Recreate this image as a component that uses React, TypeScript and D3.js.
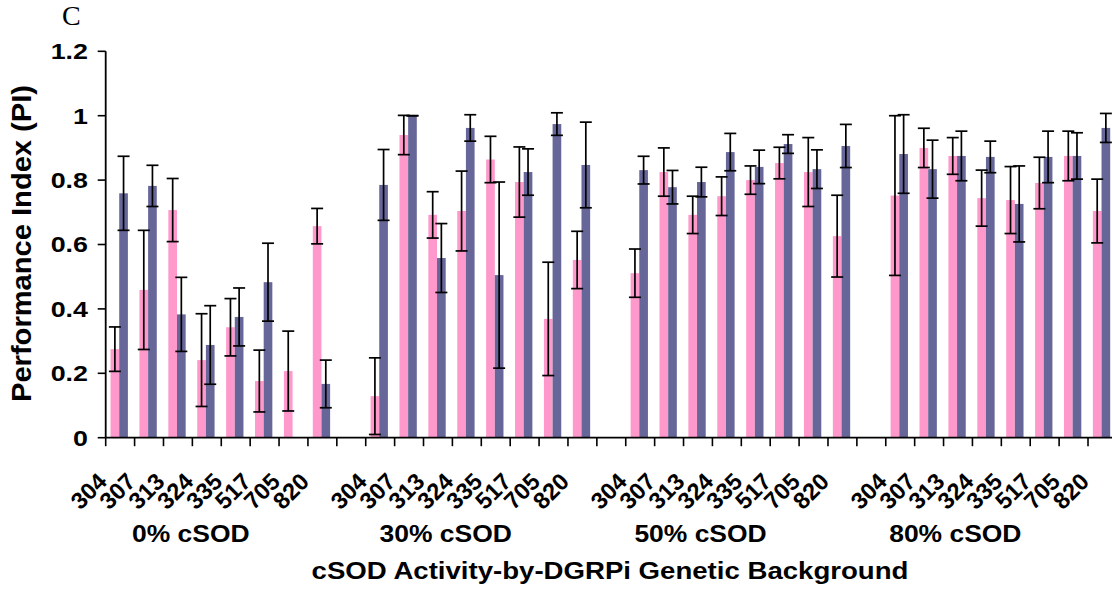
import React from "react";
import * as d3 from "d3";

const groups = ["0% cSOD", "30% cSOD", "50% cSOD", "80% cSOD"];
const strains = ["304", "307", "313", "324", "335", "517", "705", "820"];
const yTicks = [0, 0.2, 0.4, 0.6, 0.8, 1, 1.2];
const seriesNames = ["pink", "blue"];

// values listed group by group (0%, 30%, 50%, 80%), strains in order
const pinkMean = [
  0.275, 0.459, 0.707, 0.241, 0.343, 0.176, 0.207, 0.657,
  0.129, 0.94, 0.692, 0.704, 0.864, 0.794, 0.369, 0.552,
  0.511, 0.825, 0.692, 0.75, 0.8, 0.853, 0.825, 0.626,
  0.752, 0.9, 0.875, 0.744, 0.738, 0.791, 0.875, 0.704,
];
const pinkErr = [
  0.069, 0.185, 0.098, 0.144, 0.089, 0.096, 0.124, 0.055,
  0.119, 0.061, 0.072, 0.124, 0.072, 0.109, 0.176, 0.089,
  0.075, 0.075, 0.058, 0.06, 0.044, 0.049, 0.107, 0.127,
  0.248, 0.061, 0.057, 0.087, 0.104, 0.08, 0.077, 0.099,
];
const blueMean = [
  0.759, 0.782, 0.383, 0.288, 0.375, 0.483, null, 0.167,
  0.785, 1.0, 0.558, 0.962, 0.505, 0.825, 0.974, 0.847,
  0.831, 0.778, 0.794, 0.887, 0.841, 0.912, 0.834, 0.906,
  0.881, 0.834, 0.875, 0.872, 0.726, 0.872, 0.875, 0.962,
];
const blueErr = [
  0.115, 0.064, 0.115, 0.122, 0.09, 0.121, null, 0.074,
  0.11, 0, 0.107, 0.041, 0.289, 0.072, 0.035, 0.133,
  0.043, 0.052, 0.046, 0.058, 0.052, 0.029, 0.06, 0.067,
  0.122, 0.09, 0.077, 0.049, 0.118, 0.08, 0.072, 0.045,
];

const COLORS: Record<string, string> = { pink: "#FF99CC", blue: "#666699" };
const FONT = "'Liberation Sans', Arial, sans-serif";

export default function App() {
  const W = 1112;
  const H = 590;
  const x0 = 105.7;
  const x1 = 1116.9;
  const y = d3.scaleLinear().domain([0, 1.2]).range([437.7, 51.3]);

  // slot keys: strains of each group, with an empty slot between groups
  const slots: string[] = [];
  groups.forEach((g, gi) => {
    strains.forEach((s) => slots.push(`${g}|${s}`));
    if (gi < groups.length - 1) slots.push(`gap${gi}`);
  });
  const x = d3.scaleBand<string>().domain(slots).range([x0, x1]).padding(0);
  const bw = x.bandwidth();
  const inner = d3
    .scaleBand<string>()
    .domain(seriesNames)
    .range([0, bw])
    .paddingInner(0)
    .paddingOuter(0.667)
    .align(0.42);

  type Row = { key: string; series: string; mean: number; err: number };
  const rows: Row[] = [];
  groups.forEach((g, gi) => {
    strains.forEach((s, si) => {
      const i = gi * strains.length + si;
      const key = `${g}|${s}`;
      if (pinkMean[i] != null)
        rows.push({ key, series: "pink", mean: pinkMean[i] as number, err: pinkErr[i] as number });
      if (blueMean[i] != null)
        rows.push({ key, series: "blue", mean: blueMean[i] as number, err: blueErr[i] as number });
    });
  });

  const capW = 12;
  const boundaries = slots.map((k) => x(k) as number).concat([x1]);
  const sx = 1.15;

  return (
    <svg
      width={W}
      height={H}
      style={{ position: "absolute", left: 0, top: 0, display: "block", background: "#fff" }}
    >
      {/* panel letter */}
      <text x={62} y={25} fontFamily="'Liberation Serif', 'Times New Roman', serif" fontSize={28}>
        C
      </text>

      {/* bars */}
      {rows.map((r, i) => (
        <rect
          key={"b" + i}
          x={(x(r.key) as number) + (inner(r.series) as number)}
          y={y(r.mean)}
          width={inner.bandwidth()}
          height={y(0) - y(r.mean)}
          fill={COLORS[r.series]}
        />
      ))}

      {/* error bars */}
      {rows.map((r, i) => {
        const cx = (x(r.key) as number) + (inner(r.series) as number) + inner.bandwidth() / 2;
        const top = y(Math.min(r.mean + r.err, 1.2));
        const bot = y(Math.max(r.mean - r.err, 0));
        return (
          <g key={"e" + i} stroke="#000" strokeWidth={1.7}>
            <line x1={cx} x2={cx} y1={top} y2={bot} />
            <line x1={cx - capW / 2} x2={cx + capW / 2} y1={top} y2={top} />
            <line x1={cx - capW / 2} x2={cx + capW / 2} y1={bot} y2={bot} />
          </g>
        );
      })}

      {/* y axis */}
      <line x1={x0} x2={x0} y1={y(1.2)} y2={y(0)} stroke="#000" strokeWidth={1.8} />
      {yTicks.map((t) => (
        <g key={"yt" + t}>
          <line x1={x0 - 8} x2={x0} y1={y(t)} y2={y(t)} stroke="#000" strokeWidth={1.6} />
          <text
            transform={`translate(88, ${y(t) + 7.8}) scale(1.22,1)`}
            textAnchor="end"
            fontFamily={FONT}
            fontWeight="bold"
            fontSize={22}
          >
            {d3.format("~g")(t)}
          </text>
        </g>
      ))}

      {/* x axis */}
      <line x1={x0} x2={x1} y1={y(0)} y2={y(0)} stroke="#000" strokeWidth={1.8} />
      {boundaries.map((b, i) => (
        <line key={"xt" + i} x1={b} x2={b} y1={y(0)} y2={y(0) + 8.5} stroke="#000" strokeWidth={1.6} />
      ))}

      {/* strain labels */}
      {groups.map((g) =>
        strains.map((s) => {
          const cx = (x(`${g}|${s}`) as number) + bw / 2;
          return (
            <text
              key={g + s}
              transform={`translate(${cx - 12}, 483) rotate(-45)`}
              textAnchor="end"
              fontFamily={FONT}
              fontWeight="bold"
              fontSize={23.5}
            >
              {s}
            </text>
          );
        })
      )}

      {/* group labels */}
      {groups.map((g) => {
        const a = x(`${g}|${strains[0]}`) as number;
        const b = (x(`${g}|${strains[strains.length - 1]}`) as number) + bw;
        const cx = ((a + b) / 2) * 0.98 - 26;
        return (
          <text
            key={"g" + g}
            transform={`translate(${cx}, 541.5) scale(${sx},1)`}
            textAnchor="middle"
            fontFamily={FONT}
            fontWeight="bold"
            fontSize={23}
          >
            {g}
          </text>
        );
      })}

      {/* x axis title */}
      <text
        transform={`translate(610, 578.5) scale(1.2,1)`}
        textAnchor="middle"
        fontFamily={FONT}
        fontWeight="bold"
        fontSize={23}
      >
        cSOD Activity-by-DGRPi Genetic Background
      </text>

      {/* y axis title */}
      <text
        transform={`translate(31, 243.5) rotate(-90)`}
        textAnchor="middle"
        fontFamily={FONT}
        fontWeight="bold"
        fontSize={28}
        textLength={317}
        lengthAdjust="spacingAndGlyphs"
      >
        Performance Index (PI)
      </text>
    </svg>
  );
}
